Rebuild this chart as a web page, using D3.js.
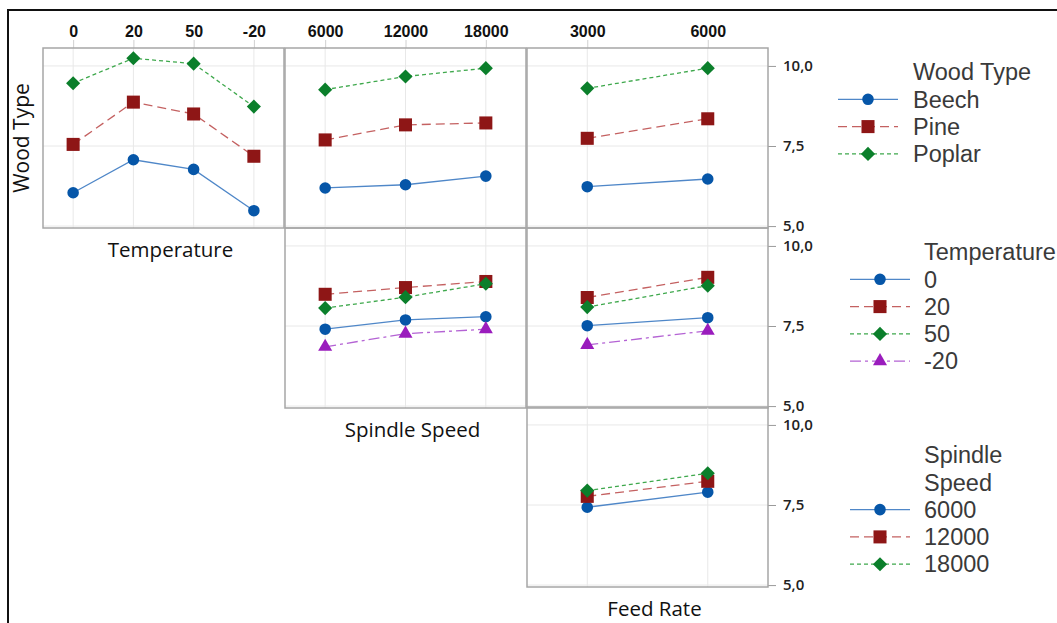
<!DOCTYPE html>
<html>
<head>
<meta charset="utf-8">
<script src="https://cdn.jsdelivr.net/npm/d3@7"></script>
<style>
  body { margin: 0; background: #fff; }
  svg { display: block; }
</style>
</head>
<body>
<div id="container"></div>
<script>
const WIDTH = 1057;
const HEIGHT = 623;

// factor levels
const temperatures = ["0", "20", "50", "-20"];
const spindleSpeeds = ["6000", "12000", "18000"];
const feedRates = ["3000", "6000"];
const woodTypes = ["Beech", "Pine", "Poplar"];
const yTicks = [5, 7.5, 10];

// Wood Type traces
const beechByTemp = [6.04, 7.07, 6.77, 5.48];
const pineByTemp = [7.55, 8.87, 8.5, 7.18];
const poplarByTemp = [9.46, 10.24, 10.07, 8.73];

const beechBySpindle = [6.19, 6.29, 6.56];
const pineBySpindle = [7.69, 8.16, 8.22];
const poplarBySpindle = [9.26, 9.67, 9.93];

const beechByFeed = [6.23, 6.47];
const pineByFeed = [7.74, 8.35];
const poplarByFeed = [9.3, 9.93];

// Temperature traces
const t0BySpindle = [7.4, 7.69, 7.79];
const t20BySpindle = [8.49, 8.7, 8.89];
const t50BySpindle = [8.06, 8.4, 8.82];
const tm20BySpindle = [6.85, 7.26, 7.4];

const t0ByFeed = [7.51, 7.76];
const t20ByFeed = [8.39, 9.02];
const t50ByFeed = [8.09, 8.76];
const tm20ByFeed = [6.91, 7.35];

// Spindle Speed traces
const s6000ByFeed = [7.43, 7.9];
const s12000ByFeed = [7.77, 8.24];
const s18000ByFeed = [7.95, 8.49];

const STYLES = [
  { marker: "#0656a8", line: "#4f87c8", dash: null, shape: "circle" },
  { marker: "#8e1616", line: "#c46161", dash: "9,5", shape: "square" },
  { marker: "#0b7f2b", line: "#3ea84c", dash: "4,3", shape: "diamond" },
  { marker: "#9a1cbd", line: "#b463d4", dash: "11,4,3,4", shape: "triangle" },
];

const COL_X = [43, 285, 527];
const COL_W = 241;
const ROW_Y = [48, 228, 407];
const ROW_H = 180;

const panels = [
  { row: 0, col: 0, levels: temperatures, traces: [beechByTemp, pineByTemp, poplarByTemp] },
  { row: 0, col: 1, levels: spindleSpeeds, traces: [beechBySpindle, pineBySpindle, poplarBySpindle] },
  { row: 0, col: 2, levels: feedRates, traces: [beechByFeed, pineByFeed, poplarByFeed] },
  { row: 1, col: 1, levels: spindleSpeeds, traces: [t0BySpindle, t20BySpindle, t50BySpindle, tm20BySpindle] },
  { row: 1, col: 2, levels: feedRates, traces: [t0ByFeed, t20ByFeed, t50ByFeed, tm20ByFeed] },
  { row: 2, col: 2, levels: feedRates, traces: [s6000ByFeed, s12000ByFeed, s18000ByFeed] },
];

const axisTitles = [
  { col: 0, row: 0, text: "Temperature" },
  { col: 1, row: 1, text: "Spindle Speed" },
  { col: 2, row: 2, text: "Feed Rate" },
];

const legends = [
  { title: ["Wood Type"], items: woodTypes, y: 72, lineX: 838, textX: 913 },
  { title: ["Temperature"], items: temperatures, y: 252, lineX: 850, textX: 924 },
  { title: ["Spindle", "Speed"], items: spindleSpeeds, y: 455, lineX: 850, textX: 924 },
];

const svg = d3.select("#container")
  .append("svg")
  .attr("width", WIDTH)
  .attr("height", HEIGHT);

// outer frame
svg.append("path")
  .attr("d", `M8,${HEIGHT + 5}V10H${WIDTH + 5}`)
  .attr("fill", "none")
  .attr("stroke", "#111")
  .attr("stroke-width", 2);

function symbolPath(shape) {
  if (shape === "circle") return d3.symbol(d3.symbolCircle, 105)();
  if (shape === "square") return d3.symbol(d3.symbolSquare, 170)();
  if (shape === "diamond") return d3.symbol(d3.symbolSquare, 100)();
  return d3.symbol(d3.symbolTriangle, 85)();
}

function drawMarker(g, shape, color, x, y) {
  g.append("path")
    .attr("d", symbolPath(shape))
    .attr("fill", color)
    .attr("transform", `translate(${x},${y})` + (shape === "diamond" ? " rotate(45)" : ""));
}

panels.forEach((p) => {
  const x0 = COL_X[p.col];
  const y0 = ROW_Y[p.row];
  const x = d3.scalePoint().domain(p.levels).range([x0, x0 + COL_W]).padding(0.5);
  const y = d3.scaleLinear().domain([4.94, 10.56]).range([y0 + ROW_H, y0]);
  const g = svg.append("g");

  // grid
  g.selectAll("line.hgrid").data(yTicks).enter().append("line")
    .attr("x1", x0).attr("x2", x0 + COL_W)
    .attr("y1", (d) => y(d)).attr("y2", (d) => y(d))
    .attr("stroke", "#e8e8e8").attr("stroke-width", 1);
  g.selectAll("line.vgrid").data(p.levels).enter().append("line")
    .attr("x1", (d) => x(d)).attr("x2", (d) => x(d))
    .attr("y1", y0).attr("y2", y0 + ROW_H)
    .attr("stroke", "#e8e8e8").attr("stroke-width", 1);

  // top axis on first row
  if (p.row === 0) {
    const top = g.append("g")
      .attr("transform", `translate(0,${y0})`)
      .call(d3.axisTop(x).tickSize(8).tickPadding(3));
    top.select(".domain").remove();
    top.selectAll(".tick line").attr("stroke", "#d0d0d0");
    top.selectAll(".tick text")
      .attr("fill", "#111")
      .attr("font-family", "'Liberation Sans', Arial, sans-serif")
      .attr("font-size", 16)
      .attr("font-weight", "bold");
  }

  // right axis on last column
  if (p.col === 2) {
    const right = g.append("g")
      .attr("transform", `translate(${x0 + COL_W},0)`)
      .call(d3.axisRight(y).tickValues(yTicks).tickSize(8).tickPadding(7)
        .tickFormat((d) => d3.format(".1f")(d).replace(".", ",")));
    right.select(".domain").remove();
    right.selectAll(".tick line").attr("stroke", "#9a9a9a");
    right.selectAll(".tick text")
      .attr("fill", "#222")
      .attr("font-family", "'Open Sans', sans-serif")
      .attr("font-size", 15)
      .attr("font-weight", 600);
  }

  // frame
  g.append("rect")
    .attr("x", x0).attr("y", y0)
    .attr("width", COL_W).attr("height", ROW_H)
    .attr("fill", "none")
    .attr("stroke", "#a6a6a6")
    .attr("stroke-width", 1.5);

  const line = d3.line().x((d, i) => x(p.levels[i])).y((d) => y(d));
  p.traces.forEach((values, k) => {
    const st = STYLES[k];
    g.append("path")
      .attr("d", line(values))
      .attr("fill", "none")
      .attr("stroke", st.line)
      .attr("stroke-width", 1.3)
      .attr("stroke-dasharray", st.dash);
    values.forEach((v, i) => drawMarker(g, st.shape, st.marker, x(p.levels[i]), y(v)));
  });
});

// axis titles
axisTitles.forEach((t) => {
  svg.append("text")
    .attr("x", COL_X[t.col] + COL_W / 2 + 7)
    .attr("y", ROW_Y[t.row] + ROW_H + 29)
    .attr("text-anchor", "middle")
    .attr("fill", "#111")
    .style("font-family", "'Open Sans', sans-serif")
    .style("font-size", "20.5px")
    .text(t.text);
});

svg.append("text")
  .attr("transform", `translate(29,${ROW_Y[0] + ROW_H / 2}) rotate(-90)`)
  .attr("text-anchor", "middle")
  .attr("fill", "#111")
  .style("font-family", "'Open Sans', sans-serif")
  .style("font-size", "21px")
  .text("Wood Type");

// legends
const ROW_STEP = 27.3;
legends.forEach((lg) => {
  const g = svg.append("g");
  lg.title.forEach((t, i) => {
    g.append("text")
      .attr("x", lg.textX)
      .attr("y", lg.y + i * ROW_STEP)
      .attr("dy", "0.35em")
      .attr("fill", "#3a3a3a")
      .style("font-family", "'Liberation Sans', Arial, sans-serif")
      .style("font-size", "23.5px")
      .text(t);
  });
  lg.items.forEach((item, k) => {
    const st = STYLES[k];
    const cy = lg.y + (lg.title.length + k) * ROW_STEP;
    g.append("line")
      .attr("x1", lg.lineX).attr("x2", lg.lineX + 60)
      .attr("y1", cy).attr("y2", cy)
      .attr("stroke", st.line)
      .attr("stroke-width", 1.3)
      .attr("stroke-dasharray", st.dash);
    drawMarker(g, st.shape, st.marker, lg.lineX + 30, cy);
    g.append("text")
      .attr("x", lg.textX)
      .attr("y", cy)
      .attr("dy", "0.35em")
      .attr("fill", "#3a3a3a")
      .style("font-family", "'Liberation Sans', Arial, sans-serif")
      .style("font-size", "23.5px")
      .text(item);
  });
});
</script>
</body>
</html>
